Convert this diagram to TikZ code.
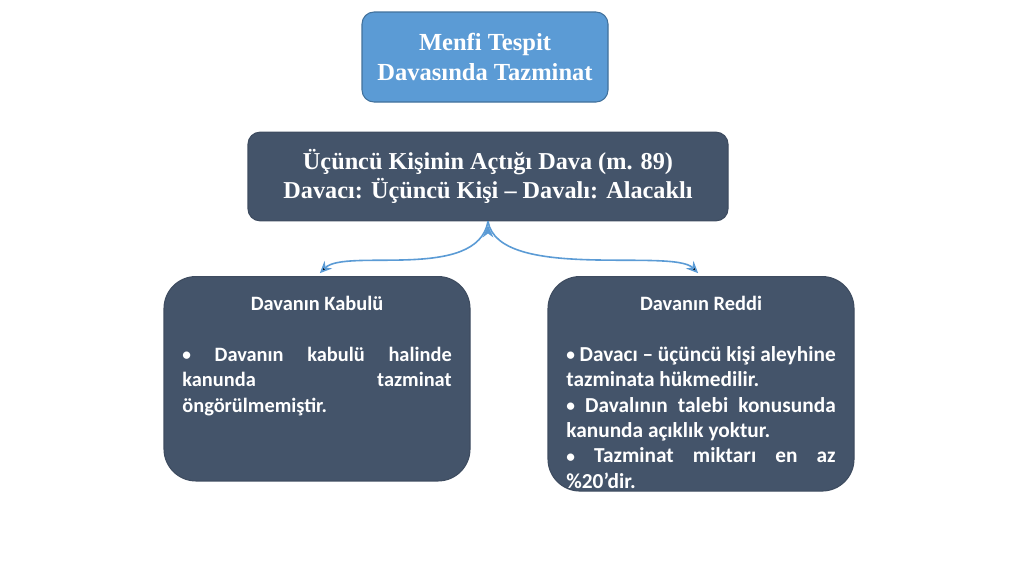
\documentclass[tikz,border=0pt]{standalone}
\usepackage{fontspec}
\setmainfont{Liberation Serif}
\newfontfamily\calibri{Carlito}
\usetikzlibrary{positioning,arrows.meta}

\definecolor{topblue}{HTML}{5B9BD5}
\definecolor{topedge}{HTML}{41719C}
\definecolor{slate}{HTML}{44546A}
\definecolor{slateedge}{HTML}{3E4C60}
\definecolor{linkblue}{HTML}{5B9BD5}

\hyphenpenalty=10000
\exhyphenpenalty=10000
\newcommand{\caseitem}{{\fontsize{13}{13}\selectfont\raisebox{0.5pt}{•}}\ }

\begin{document}
\begin{tikzpicture}[x=0.75pt,y=-0.75pt,>={Stealth[length=9pt,width=8pt]},thick,
    head node/.style={rounded corners=9pt,draw=topedge,fill=topblue,text=white,font=\bfseries\fontsize{18.4}{22}\selectfont,align=center,minimum width=184.5pt,minimum height=67.5pt},
    dava node/.style={rounded corners=9pt,draw=slateedge,fill=slate,text=white,font=\bfseries\fontsize{18.2}{22}\selectfont,align=center,minimum width=360pt,minimum height=66.5pt},
    case node/.style={rounded corners=24pt,draw=slateedge,fill=slate,text=white,font=\calibri\bfseries\fontsize{15.3}{19}\selectfont,align=justify,text width=202pt,inner xsep=13.5pt,inner ysep=15pt,minimum width=229.5pt,anchor=north},
    link/.style={->,draw=linkblue,line width=1.2pt,shorten >=3pt}]
    \useasboundingbox (0,0) rectangle (1024,576);

    \node[head node] (menfi) at (485,57) {Menfi Tespit\\Davasında Tazminat};
    \node[dava node] (dava) at (488,176.5) {Üçüncü Kişinin Açtığı Dava (m. 89)\\Davacı: Üçüncü Kişi – Davalı: Alacaklı};

    \node[case node] (kabul) at (317,276) {\makebox[\linewidth]{Davanın Kabulü}\par
        \strut\par
        \caseitem Davanın kabulü halinde kanunda tazminat öngörülmemiştir.\par
        \vspace{34pt}};
    \node[case node] (red) at (701,276) {\makebox[\linewidth]{Davanın Reddi}\par
        \strut\par
        \fontsize{16}{19}\selectfont
        \caseitem Davacı – üçüncü kişi aleyhine tazminata hükmedilir.\par
        \caseitem Davalının talebi konusunda kanunda açıklık yoktur.\par
        \caseitem Tazminat miktarı en az \%20’dir.\par
        \vspace{-13pt}};

    \path[link]
        (dava.south) edge[out=-100,in=45,out distance=46pt,in distance=30pt] (kabul.north)
        (dava.south) edge[out=-80,in=135,out distance=46pt,in distance=30pt] (red.north)
        ;
\end{tikzpicture}
\end{document}
